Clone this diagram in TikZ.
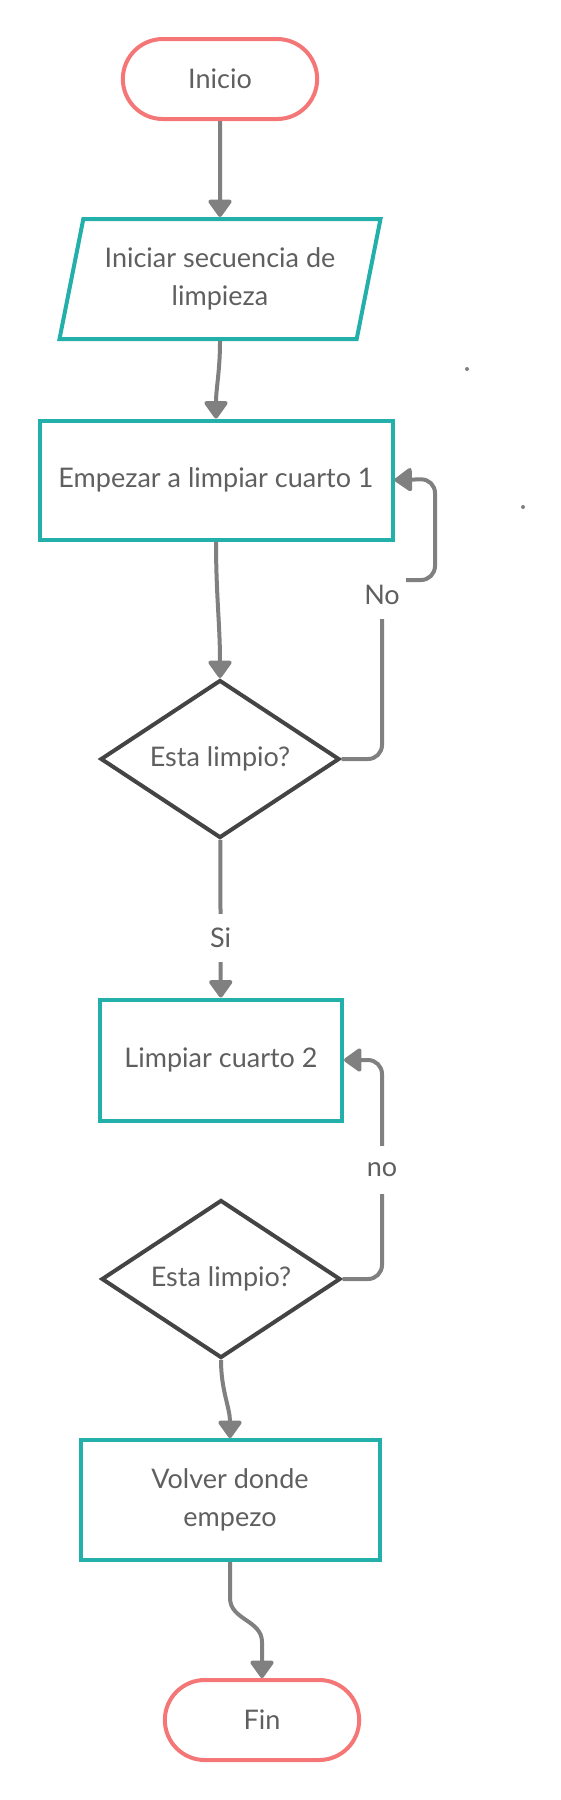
\documentclass[tikz,border=0pt]{standalone}
\usepackage{fontspec}
\setmainfont{Lato}
\usetikzlibrary{shapes.geometric,shapes.misc,arrows.meta}
\definecolor{pillred}{RGB}{244,118,118}
\definecolor{tealline}{RGB}{36,176,170}
\definecolor{darkline}{RGB}{68,68,68}
\definecolor{linkgray}{RGB}{128,128,128}
\definecolor{txtgray}{RGB}{95,95,95}

\begin{document}
\begin{tikzpicture}[x=1pt,y=-1pt,font=\fontsize{27}{38}\selectfont,
        terminal/.style={rounded rectangle,draw=pillred,line width=4pt,
          text=txtgray,minimum width=201pt,minimum height=80pt},
        io/.style={trapezium,trapezium left angle=71,trapezium right angle=109,
          trapezium stretches body,draw=tealline,line width=4pt,text=txtgray,
          align=center,minimum width=321pt,minimum height=120pt},
        process/.style={rectangle,draw=tealline,line width=4pt,text=txtgray,
          align=center},
        decision/.style={diamond,aspect=1.5,draw=darkline,line width=4pt,
          text=txtgray,minimum width=239pt,minimum height=158pt},
        flow/.style={color=linkgray,line width=4pt,
          -{Triangle[length=19pt,width=26pt,round]}},
        lbl/.style={fill=white,text=txtgray,inner xsep=6pt,minimum height=48pt}]

        \useasboundingbox (0,0) rectangle (561,1800);

        \node[terminal] (start) at (220,79) {Inicio};
        \node[io] (para) at (220,279) {Iniciar secuencia de\\limpieza};
        \node[process,minimum width=353pt,minimum height=119pt] (room1)
          at (216,480) {Empezar a limpiar cuarto 1};
        \node[decision] (check1) at (220,759) {Esta limpio?};
        \node[process,minimum width=242pt,minimum height=121pt] (room2)
          at (221,1060) {Limpiar cuarto 2};
        \node[decision] (check2) at (221,1279) {Esta limpio?};
        \node[process,minimum width=299pt,minimum height=120pt] (back)
          at (230,1500) {Volver donde\\empezo};
        \node[terminal] (end) at (262,1720) {Fin};

        \path[flow]

        (start) edge (para)

        (para) edge[out=-90,in=90] (room1)

        (room1) edge[out=-90,in=90] (check1)

        (check1) edge node[lbl,pos=0.62] {Si} (room2)

        (check2) edge[out=-90,in=90] (back)
        
        ;

        \draw[flow] (back.south) -- ++(0,36)
          .. controls +(0,22) and +(0,-22) .. ++(32,44) -- (end.north);

        \draw[flow,rounded corners=14pt] (check1.east) -| (382,580)
          -| (435,479) -- (room1.east);
        \node[lbl] (no1) at (382,595) {No};

        \draw[flow,rounded corners=14pt] (check2.east) -| (382,1060)
          -- (room2.east);
        \node[lbl] (no2) at (382,1170) {no};

        \fill[linkgray] (467,369) circle (2pt);
        \fill[linkgray] (523,507) circle (2pt);
\end{tikzpicture}
\end{document}
